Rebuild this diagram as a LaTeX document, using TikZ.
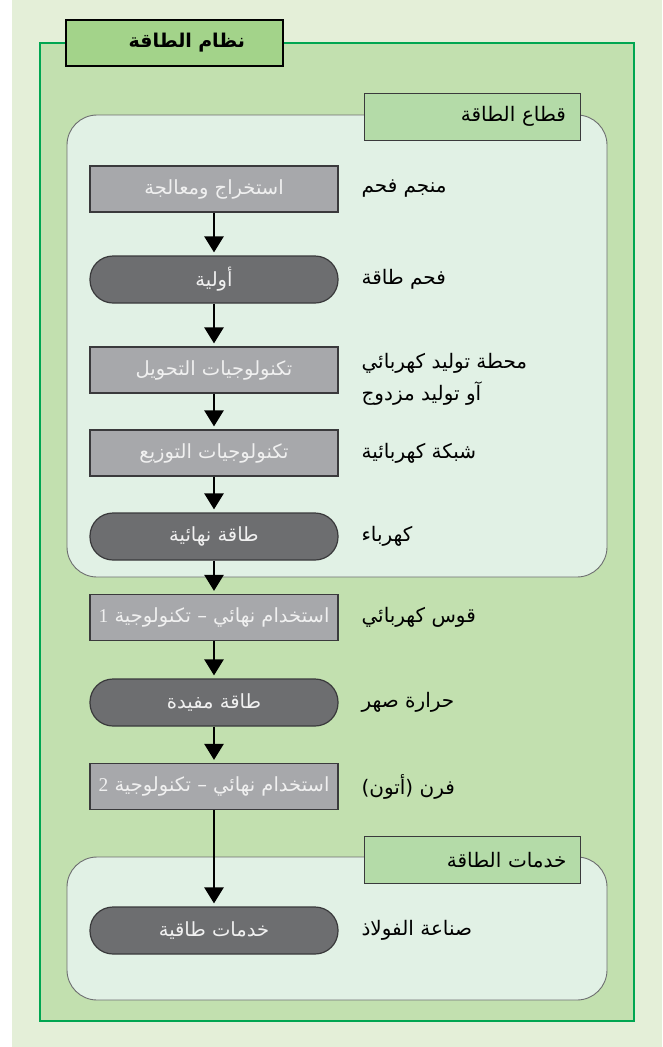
\documentclass[tikz,border=0pt]{standalone}
\usepackage{fontspec}
\usepackage{tikz}
\usetikzlibrary{arrows.meta,positioning}
\TeXXeTstate=1
\newfontfamily\arabicfont[Script=Arabic]{DejaVu Sans}
\newfontfamily\digitfont{Liberation Serif}
\newcommand{\artext}[1]{{\arabicfont\beginR #1\endR}}
\definecolor{epale}{HTML}{E4EFD8}
\definecolor{egreen}{HTML}{C2E0AF}
\definecolor{eline}{HTML}{00A651}
\definecolor{etitle}{HTML}{A3D38A}
\definecolor{etab}{HTML}{B4DBA8}
\definecolor{esector}{HTML}{E1F1E5}
\definecolor{egray}{HTML}{A7A8AB}
\definecolor{edark}{HTML}{6D6E70}
\definecolor{eborder}{HTML}{3A3A3C}

\begin{document}
\begin{tikzpicture}[x=1pt, y=-1pt,
    techbox/.style={rectangle, draw=eborder, line width=1.2pt, fill=egray, minimum width=248pt, minimum height=46pt, inner xsep=2pt, text=white!94!black, font=\fontsize{19.5}{22}\selectfont},
    energy/.style={techbox, fill=edark, rounded corners=23pt, minimum height=47pt},
    side/.style={anchor=west, align=left, font=\fontsize{20}{32}\selectfont},
    tab/.style={rectangle, draw=eborder, line width=1pt, fill=etab, minimum height=47pt, inner xsep=14pt, text width=188pt, align=right, font=\fontsize{20}{22}\selectfont},
    area/.style={draw=edark, line width=0.9pt, fill=esector, rounded corners=30pt},
    flow/.style={-{Triangle[length=16pt,width=19pt]}, line width=2.6pt, shorten >=3pt}
]
    \useasboundingbox (0,0) rectangle (662,1047);

    % Frames
    \fill[epale] (12,0) rectangle (662,1047);
    \draw[eline, fill=egreen, line width=2pt] (40,43) rectangle (634,1021);
    \draw[area] (67,115) rectangle (607,577);
    \draw[area] (67,857) rectangle (607,1000);

    % Titles
    \node[rectangle, draw=black, line width=1.4pt, fill=etitle, minimum height=46pt, inner xsep=38pt, text width=141pt, align=right, font=\fontsize{19}{22}\selectfont\bfseries] (system) at (174.5,43) {\artext{نظام الطاقة}};
    \node[tab] (sector) at (472,116.5) {\artext{قطاع الطاقة}};
    \node[tab] (services) at (472.5,860) {\artext{خدمات الطاقة}};

    % Chain
    \node[techbox] (extract) at (214,189) {\artext{استخراج ومعالجة}};
    \node[energy] (primary) at (214,279.5) {\artext{أولية}};
    \node[techbox] (convert) at (214,370) {\artext{تكنولوجيات التحويل}};
    \node[techbox] (distrib) at (214,453) {\artext{تكنولوجيات التوزيع}};
    \node[energy] (final) at (214,536.5) {\artext{طاقة نهائية}};
    \node[techbox] (enduse1) at (214,617.5) {\artext{استخدام نهائي – تكنولوجية {\digitfont 1}}};
    \node[energy] (useful) at (214,702.5) {\artext{طاقة مفيدة}};
    \node[techbox] (enduse2) at (214,786.5) {\artext{استخدام نهائي – تكنولوجية {\digitfont 2}}};
    \node[energy] (service) at (214,930.5) {\artext{خدمات طاقية}};

    % Examples
    \node[side] (mine) at (358,189) {\artext{منجم فحم}};
    \node[side] (coal) at (358,279.5) {\artext{فحم طاقة}};
    \node[side] (plant) at (358,379) {\artext{محطة توليد كهربائي}\\\artext{آو توليد مزدوج}};
    \node[side] (grid) at (358,453) {\artext{شبكة كهربائية}};
    \node[side] (power) at (358,536.5) {\artext{كهرباء}};
    \node[side] (arc) at (358,617.5) {\artext{قوس كهربائي}};
    \node[side] (melt) at (358,702.5) {\artext{حرارة صهر}};
    \node[side] (furnace) at (358,786.5) {\artext{فرن (أتون)}};
    \node[side] (steel) at (358,930.5) {\artext{صناعة الفولاذ}};

    % Flows
    \draw[flow] (extract) -- (primary);
    \draw[flow] (primary) -- (convert);
    \draw[flow] (convert) -- (distrib);
    \draw[flow] (distrib) -- (final);
    \draw[flow] (final) -- (enduse1);
    \draw[flow] (enduse1) -- (useful);
    \draw[flow] (useful) -- (enduse2);
    \draw[flow] (enduse2) -- (service);

\end{tikzpicture}
\end{document}
